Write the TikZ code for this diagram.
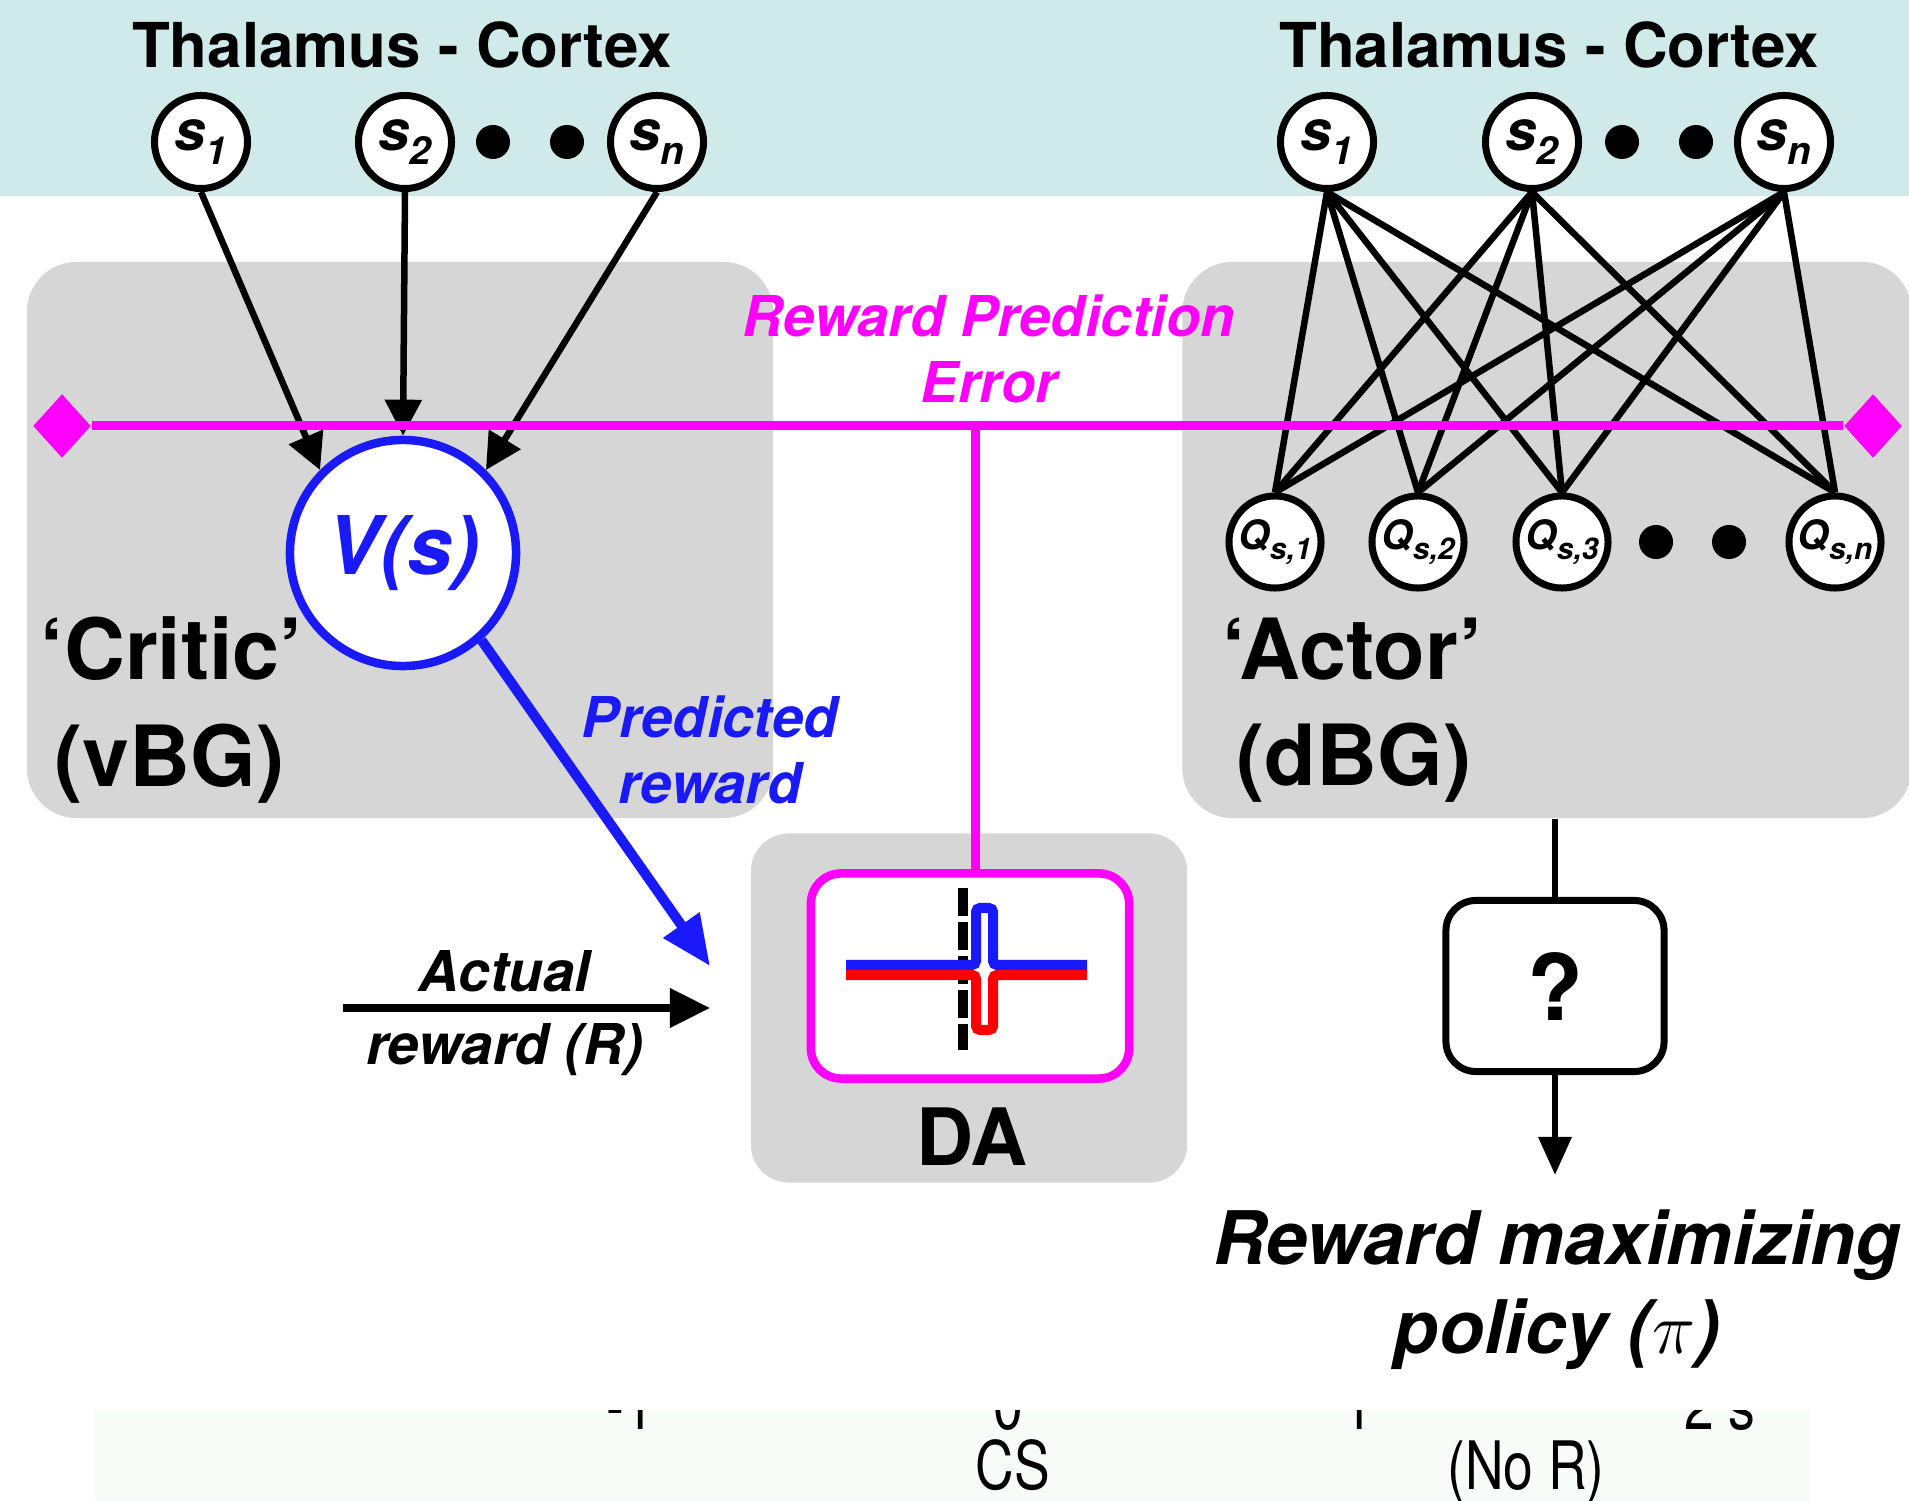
\documentclass[tikz,border=0pt]{standalone}
\usepackage{fontspec}
\setmainfont{TeX Gyre Heros}
\newfontfamily\narrowfont[FakeStretch=0.8]{TeX Gyre Heros}
\usepackage{tikz}
\usetikzlibrary{positioning, shapes.geometric, arrows.meta}
\definecolor{bandteal}{RGB}{208,234,233}
\definecolor{boxgray}{RGB}{214,214,214}
\definecolor{rpepink}{RGB}{255,0,255}
\definecolor{vblue}{RGB}{25,25,250}
\definecolor{axisband}{RGB}{248,252,249}
\newcommand{\lowidx}[2]{\raisebox{-0.45ex}{\fontsize{#1}{#1}\selectfont #2}}

\begin{document}
\begin{tikzpicture}[x=0.01cm, y=-0.01cm,
        snode/.style={circle, draw, fill=white, line width=0.07cm,
                      minimum size=0.93cm, inner sep=0pt,
                      font=\fontsize{16}{16}\selectfont\bfseries\itshape},
        qnode/.style={snode, minimum size=0.92cm,
                      font=\fontsize{11.5}{11.5}\selectfont\bfseries\itshape},
        blob/.style={circle, fill=black, minimum size=0.34cm, inner sep=0pt},
        region/.style={rectangle, fill=boxgray, rounded corners=0.5cm, inner sep=0pt},
        heading/.style={font=\fontsize{17.6}{21}\selectfont\bfseries},
        bigtag/.style={align=left, inner sep=0pt, font=\fontsize{24}{30.2}\selectfont\bfseries},
        tag/.style={align=center, inner sep=0pt, font=\fontsize{16}{19}\selectfont\bfseries\itshape},
        feed/.style={line width=0.065cm, -{Triangle[length=0.36cm, width=0.36cm]}},
        link/.style={line width=0.065cm},
        rpe/.style={draw=rpepink, line width=0.09cm},
        ticklabel/.style={inner sep=0pt, anchor=base, font=\narrowfont\fontsize{19}{20}\selectfont}]
    \useasboundingbox (0,0) rectangle (1909,1501);

    % Background areas
    \fill[bandteal] (0,0) rectangle (1909,196);
    \node[region, minimum width=7.46cm, minimum height=5.56cm] (critbox) at (400,540) {};
    \node[region, minimum width=7.29cm, minimum height=5.56cm] (actbox) at (1547,540) {};
    \node[region, rounded corners=0.38cm, minimum width=4.36cm, minimum height=3.49cm] (dabox) at (969,1008) {};
    \fill[axisband] (95,1410) rectangle (1810,1501);

    % Thalamus - Cortex (critic side)
    \node[heading] (thalL) at (402,45) {Thalamus - Cortex};
    \node[snode] (cs1) at (201,142) {s\lowidx{11}{1}};
    \node[snode] (cs2) at (405,142) {s\lowidx{11}{2}};
    \node[blob] (cd1) at (493,142) {};
    \node[blob] (cd2) at (567,142) {};
    \node[snode] (csn) at (657,142) {s\lowidx{11}{n}};

    % Thalamus - Cortex (actor side)
    \node[heading] (thalR) at (1549,45) {Thalamus - Cortex};
    \node[snode] (as1) at (1327,142) {s\lowidx{11}{1}};
    \node[snode] (as2) at (1532,142) {s\lowidx{11}{2}};
    \node[blob] (ad1) at (1622,142) {};
    \node[blob] (ad2) at (1696,142) {};
    \node[snode] (asn) at (1784,142) {s\lowidx{11}{n}};

    % Actor units
    \node[qnode] (q1) at (1275,542) {Q\lowidx{8.5}{s,1}};
    \node[qnode] (q2) at (1418,542) {Q\lowidx{8.5}{s,2}};
    \node[qnode] (q3) at (1562,542) {Q\lowidx{8.5}{s,3}};
    \node[blob] (qd1) at (1656,542) {};
    \node[blob] (qd2) at (1729,542) {};
    \node[qnode] (qn) at (1835,542) {Q\lowidx{8.5}{s,n}};
    \foreach \s in {as1,as2,asn}
        \foreach \q in {q1,q2,q3,qn}
            \draw[link] (\s.south) -- (\q.north);

    % Critic unit
    \node[circle, draw=vblue, fill=white, line width=0.085cm, minimum size=2.26cm,
          text=vblue, font=\fontsize{23}{23}\selectfont\bfseries\itshape] (vs) at (403,553) {V(s)};
    \draw[feed] (cs1.south) -- (vs.135);
    \draw[feed] (cs2.south) -- (vs.north);
    \draw[feed] (csn.south) -- (vs.45);

    % Reward prediction error
    \node[diamond, fill=rpepink, minimum width=0.58cm, minimum height=0.64cm, inner sep=0pt] (rpeL) at (62,426) {};
    \node[diamond, fill=rpepink, minimum width=0.58cm, minimum height=0.64cm, inner sep=0pt] (rpeR) at (1873,426) {};
    \draw[rpe] (rpeL) -- (rpeR);
    \coordinate (rpejoin) at (975,426);
    \node[tag, text=rpepink] (rpetext) at (989,349) {Reward Prediction\\Error};

    % Dopamine response
    \node[rectangle, draw=rpepink, fill=white, line width=0.085cm, rounded corners=0.3cm,
          minimum width=3.18cm, minimum height=2.05cm] (dawin) at (970,976) {};
    \draw[rpe] (rpejoin) -- (rpejoin |- dawin.north);
    \draw[line width=0.1cm, dash pattern=on 0.28cm off 0.06cm] (963,888) -- (963,1050);
    \draw[vblue, line width=0.1cm, rounded corners=0.04cm]
        (846,965) -- (976,965) -- (976,908) -- (993,908) -- (993,965) -- (1087,965);
    \draw[red, line width=0.1cm, rounded corners=0.04cm]
        (846,975) -- (976,975) -- (976,1030) -- (993,1030) -- (993,975) -- (1087,975);
    \node[font=\fontsize{22.5}{22.5}\selectfont\bfseries] (datext) at (972,1137) {DA};

    % Region labels
    \node[bigtag, anchor=west] (critic) at (40,710) {`Critic'\\\,(vBG)};
    \node[bigtag, anchor=west] (actor) at (1222,710) {`Actor'\\\,(dBG)};

    % Predicted and actual reward
    \coordinate (predtip) at (710,966);
    \draw[vblue, line width=0.1cm, -{Triangle[length=0.5cm, width=0.42cm]}] (vs.-48) -- (predtip);
    \node[tag, text=vblue] (predtext) at (710,750) {Predicted\\reward};
    \coordinate (actstart) at (343,1008);
    \coordinate (actend) at (710,1008);
    \draw[line width=0.07cm, -{Triangle[length=0.4cm, width=0.38cm]}] (actstart) --
        node[pos=0.44, above=0.12cm, tag] {Actual}
        node[pos=0.44, below=0.12cm, tag] {reward (R)} (actend);

    % Action selection
    \node[rectangle, draw, fill=white, line width=0.07cm, rounded corners=0.3cm,
          minimum width=2.18cm, minimum height=1.71cm,
          font=\fontsize{26}{26}\selectfont\bfseries] (qbox) at (1555,986) {?};
    \draw[link] (qbox.north |- actbox.south) -- (qbox.north);
    \coordinate (pitip) at (1555,1175);
    \draw[link, -{Triangle[length=0.38cm, width=0.32cm]}] (qbox.south) -- (pitip);
    \node[align=center, inner sep=0pt, font=\fontsize{21}{25.3}\selectfont\bfseries\itshape]
        (policy) at (1557,1290) {Reward maximizing\\policy ($\pi$)};

    % Cut-off time axis
    \begin{scope}
        \clip (95,1410) rectangle (1810,1501);
        \node[ticklabel] (tm1) at (630,1429) {-1};
        \node[ticklabel] (t0) at (1008,1429) {0};
        \node[ticklabel] (t1) at (1358,1429) {1};
        \node[ticklabel] (t2) at (1720,1429) {2 s};
    \end{scope}
    \node[ticklabel] (cs) at (1013,1489) {CS};
    \node[ticklabel] (nor) at (1526,1489) {(No R)};
\end{tikzpicture}
\end{document}
